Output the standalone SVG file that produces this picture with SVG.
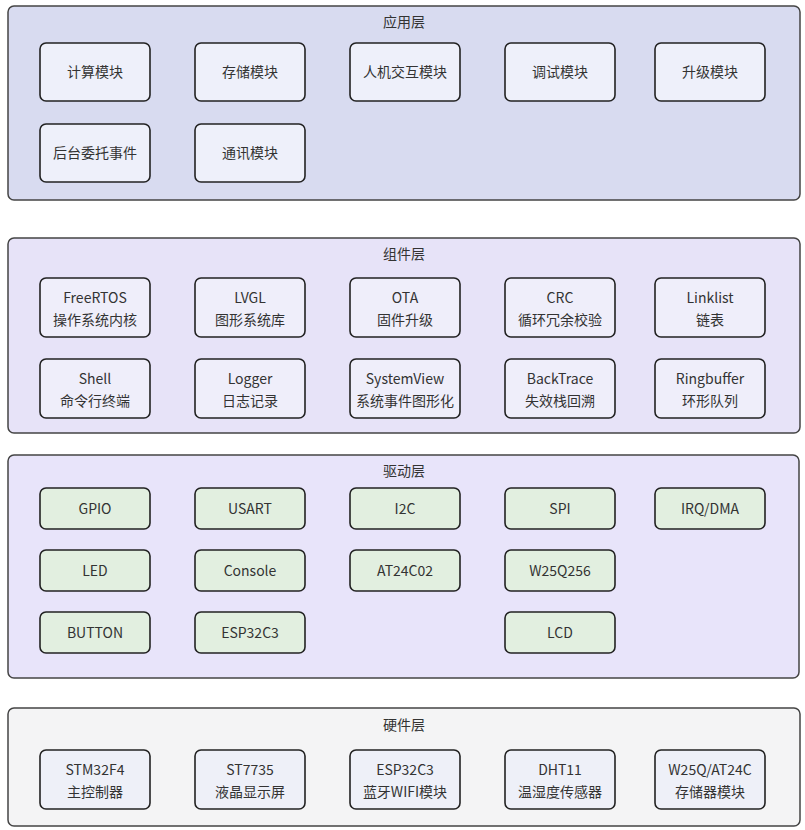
<svg xmlns="http://www.w3.org/2000/svg" width="805" height="830" viewBox="0 0 805 830">
<style>
text{font-family:"Noto Sans CJK SC","Noto Sans",sans-serif;font-size:14px;fill:#333;text-anchor:middle}
.layer{stroke:#444;stroke-width:1.5}
.n{stroke:#222;stroke-width:1.6}
.app{fill:#eef0fa}
.cmp{fill:#efeefa}
.drv{fill:#e2efe0}
.hw{fill:#eef0f8}
</style>
<rect width="805" height="830" fill="#ffffff"/>
<g id="layer-app">
<rect class="layer" x="8" y="6" width="792" height="194" rx="6" fill="#d8dbf0"/>
<text x="404" y="27">应用层</text>
</g>
<g id="n-calc"><rect class="n app" x="40" y="43" width="110" height="58" rx="6"/><text x="95" y="77">计算模块</text></g>
<g id="n-store"><rect class="n app" x="195" y="43" width="110" height="58" rx="6"/><text x="250" y="77">存储模块</text></g>
<g id="n-hmi"><rect class="n app" x="350" y="43" width="110" height="58" rx="6"/><text x="405" y="77">人机交互模块</text></g>
<g id="n-debug"><rect class="n app" x="505" y="43" width="110" height="58" rx="6"/><text x="560" y="77">调试模块</text></g>
<g id="n-upgrade"><rect class="n app" x="655" y="43" width="110" height="58" rx="6"/><text x="710" y="77">升级模块</text></g>
<g id="n-bg"><rect class="n app" x="40" y="124" width="110" height="58" rx="6"/><text x="95" y="158">后台委托事件</text></g>
<g id="n-comm"><rect class="n app" x="195" y="124" width="110" height="58" rx="6"/><text x="250" y="158">通讯模块</text></g>

<g id="layer-cmp">
<rect class="layer" x="8" y="238" width="792" height="195" rx="6" fill="#e7e3f8"/>
<text x="404" y="259">组件层</text>
</g>
<g id="n-freertos"><rect class="n cmp" x="40" y="278" width="110" height="59" rx="6"/><text x="95" y="303">FreeRTOS</text><text x="95" y="325">操作系统内核</text></g>
<g id="n-lvgl"><rect class="n cmp" x="195" y="278" width="110" height="59" rx="6"/><text x="250" y="303">LVGL</text><text x="250" y="325">图形系统库</text></g>
<g id="n-ota"><rect class="n cmp" x="350" y="278" width="110" height="59" rx="6"/><text x="405" y="303">OTA</text><text x="405" y="325">固件升级</text></g>
<g id="n-crc"><rect class="n cmp" x="505" y="278" width="110" height="59" rx="6"/><text x="560" y="303">CRC</text><text x="560" y="325">循环冗余校验</text></g>
<g id="n-linklist"><rect class="n cmp" x="655" y="278" width="110" height="59" rx="6"/><text x="710" y="303">Linklist</text><text x="710" y="325">链表</text></g>
<g id="n-shell"><rect class="n cmp" x="40" y="359" width="110" height="59" rx="6"/><text x="95" y="384">Shell</text><text x="95" y="406">命令行终端</text></g>
<g id="n-logger"><rect class="n cmp" x="195" y="359" width="110" height="59" rx="6"/><text x="250" y="384">Logger</text><text x="250" y="406">日志记录</text></g>
<g id="n-sysview"><rect class="n cmp" x="350" y="359" width="110" height="59" rx="6"/><text x="405" y="384">SystemView</text><text x="405" y="406">系统事件图形化</text></g>
<g id="n-backtrace"><rect class="n cmp" x="505" y="359" width="110" height="59" rx="6"/><text x="560" y="384">BackTrace</text><text x="560" y="406">失效栈回溯</text></g>
<g id="n-ringbuf"><rect class="n cmp" x="655" y="359" width="110" height="59" rx="6"/><text x="710" y="384">Ringbuffer</text><text x="710" y="406">环形队列</text></g>

<g id="layer-drv">
<rect class="layer" x="8" y="455" width="791" height="223" rx="6" fill="#e8e4fa"/>
<text x="404" y="476">驱动层</text>
</g>
<g id="n-gpio"><rect class="n drv" x="40" y="488" width="110" height="41" rx="6"/><text x="95" y="514">GPIO</text></g>
<g id="n-usart"><rect class="n drv" x="195" y="488" width="110" height="41" rx="6"/><text x="250" y="514">USART</text></g>
<g id="n-i2c"><rect class="n drv" x="350" y="488" width="110" height="41" rx="6"/><text x="405" y="514">I2C</text></g>
<g id="n-spi"><rect class="n drv" x="505" y="488" width="110" height="41" rx="6"/><text x="560" y="514">SPI</text></g>
<g id="n-irq"><rect class="n drv" x="655" y="488" width="110" height="41" rx="6"/><text x="710" y="514">IRQ/DMA</text></g>
<g id="n-led"><rect class="n drv" x="40" y="550" width="110" height="41" rx="6"/><text x="95" y="576">LED</text></g>
<g id="n-console"><rect class="n drv" x="195" y="550" width="110" height="41" rx="6"/><text x="250" y="576">Console</text></g>
<g id="n-at24"><rect class="n drv" x="350" y="550" width="110" height="41" rx="6"/><text x="405" y="576">AT24C02</text></g>
<g id="n-w25"><rect class="n drv" x="505" y="550" width="110" height="41" rx="6"/><text x="560" y="576">W25Q256</text></g>
<g id="n-button"><rect class="n drv" x="40" y="612" width="110" height="41" rx="6"/><text x="95" y="638">BUTTON</text></g>
<g id="n-esp-drv"><rect class="n drv" x="195" y="612" width="110" height="41" rx="6"/><text x="250" y="638">ESP32C3</text></g>
<g id="n-lcd"><rect class="n drv" x="505" y="612" width="110" height="41" rx="6"/><text x="560" y="638">LCD</text></g>

<g id="layer-hw">
<rect class="layer" x="8" y="708" width="792" height="118" rx="6" fill="#f4f4f5"/>
<text x="404" y="730">硬件层</text>
</g>
<g id="n-stm32"><rect class="n hw" x="40" y="750" width="110" height="59" rx="6"/><text x="95" y="775">STM32F4</text><text x="95" y="797">主控制器</text></g>
<g id="n-st7735"><rect class="n hw" x="195" y="750" width="110" height="59" rx="6"/><text x="250" y="775">ST7735</text><text x="250" y="797">液晶显示屏</text></g>
<g id="n-esp-hw"><rect class="n hw" x="350" y="750" width="110" height="59" rx="6"/><text x="405" y="775">ESP32C3</text><text x="405" y="797">蓝牙WIFI模块</text></g>
<g id="n-dht11"><rect class="n hw" x="505" y="750" width="110" height="59" rx="6"/><text x="560" y="775">DHT11</text><text x="560" y="797">温湿度传感器</text></g>
<g id="n-w25at"><rect class="n hw" x="655" y="750" width="110" height="59" rx="6"/><text x="710" y="775">W25Q/AT24C</text><text x="710" y="797">存储器模块</text></g>
<g id="connectors"></g>
</svg>
